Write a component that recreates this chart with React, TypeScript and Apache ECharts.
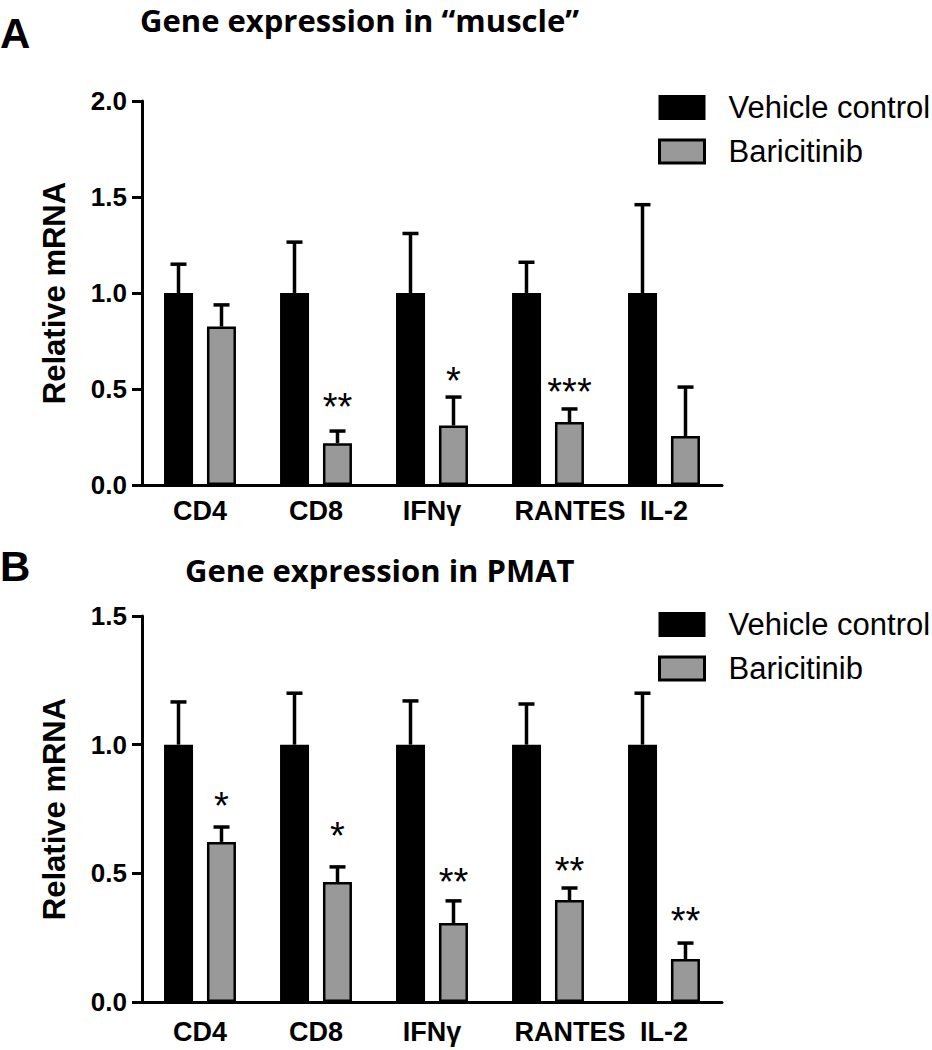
import React, { useEffect, useRef } from "react";
import * as echarts from "echarts";

const categories = ["CD4", "CD8", "IFNγ", "RANTES", "IL-2"];
const seriesNames = ["Vehicle control", "Baricitinib"];

// Panel A: muscle
const muscleVehicle = [1, 1, 1, 1, 1];
const muscleVehicleErrTop = [1.15, 1.265, 1.31, 1.16, 1.46];
const muscleBari = [0.825, 0.218, 0.31, 0.328, 0.255];
const muscleBariErrTop = [0.938, 0.281, 0.458, 0.396, 0.51];
const muscleStars = ["", "**", "*", "***", ""];
const muscleStarY = [0, 0.453, 0.589, 0.531, 0];

// Panel B: PMAT
const pmatVehicle = [1, 1, 1, 1, 1];
const pmatVehicleErrTop = [1.166, 1.2, 1.17, 1.158, 1.2];
const pmatBari = [0.622, 0.466, 0.307, 0.396, 0.167];
const pmatBariErrTop = [0.68, 0.525, 0.393, 0.443, 0.229];
const pmatStars = ["*", "*", "**", "**", "**"];
const pmatStarY = [0.797, 0.68, 0.501, 0.544, 0.35];

const muscleYTicks = { min: 0, max: 2, interval: 0.5 };
const pmatYTicks = { min: 0, max: 1.5, interval: 0.5 };

const GRAY = "#999999";
const BAR_W = 29;
const OFF = 21.5;
const SANS = "'Liberation Sans', Arial, sans-serif";

function errRender(off: number) {
  return (params: any, api: any) => {
    const c = api.value(0);
    const top = api.coord([c, api.value(2)]);
    const base = api.coord([c, api.value(1)]);
    const x = top[0] + off;
    return {
      type: "group",
      children: [
        { type: "line", shape: { x1: x, y1: base[1], x2: x, y2: top[1] }, style: { stroke: "#000", lineWidth: 3.5 } },
        { type: "line", shape: { x1: x - 8, y1: top[1], x2: x + 8, y2: top[1] }, style: { stroke: "#000", lineWidth: 3.5 } },
      ],
    };
  };
}

function starRender(stars: string[]) {
  return (params: any, api: any) => {
    const c = api.value(0);
    const p = api.coord([c, api.value(1)]);
    const s = stars[params.dataIndex];
    if (!s) return { type: "group", children: [] };
    return {
      type: "text",
      x: p[0] + OFF,
      y: p[1] + 9,
      style: {
        text: s,
        fontFamily: SANS,
        fontSize: 38,
        fill: "#000",
        textAlign: "center",
        textVerticalAlign: "middle",
      },
    };
  };
}

function panelSeries(idx: number, veh: number[], vehErr: number[], bari: number[], bariErr: number[], stars: string[], starY: number[]) {
  return [
    {
      name: seriesNames[0],
      type: "bar",
      xAxisIndex: idx,
      yAxisIndex: idx,
      data: veh,
      barWidth: BAR_W,
      barGap: "48%",
      itemStyle: { color: "#000", borderColor: "#000", borderWidth: 2 },
      z: 2,
    },
    {
      name: seriesNames[1],
      type: "bar",
      xAxisIndex: idx,
      yAxisIndex: idx,
      data: bari,
      barWidth: BAR_W,
      barGap: "48%",
      itemStyle: { color: GRAY, borderColor: "#000", borderWidth: 2.5 },
      z: 2,
    },
    {
      type: "custom",
      xAxisIndex: idx,
      yAxisIndex: idx,
      renderItem: errRender(-OFF),
      data: categories.map((_, i) => [i, veh[i], vehErr[i]]),
      encode: { x: 0, y: 2 },
      z: 3,
      silent: true,
    },
    {
      type: "custom",
      xAxisIndex: idx,
      yAxisIndex: idx,
      renderItem: errRender(OFF),
      data: categories.map((_, i) => [i, bari[i], bariErr[i]]),
      encode: { x: 0, y: 2 },
      z: 3,
      silent: true,
    },
    {
      type: "custom",
      xAxisIndex: idx,
      yAxisIndex: idx,
      renderItem: starRender(stars),
      data: categories.map((_, i) => [i, starY[i]]),
      encode: { x: 0, y: 1 },
      z: 4,
      silent: true,
    },
  ];
}

function xAxis(idx: number, margin: number) {
  return {
    type: "category",
    gridIndex: idx,
    data: categories,
    axisLine: { lineStyle: { color: "#000", width: 3 } },
    axisTick: { alignWithLabel: true, length: 10, lineStyle: { color: "#000", width: 3 } },
    axisLabel: {
      interval: 0,
      color: "#000",
      fontFamily: SANS,
      fontWeight: "bold",
      fontSize: 27,
      margin,
      formatter: (v: string) => (v === "RANTES" ? "{r|RANTES}" : v),
      rich: {
        r: { fontFamily: SANS, fontWeight: "bold", fontSize: 27, color: "#000", padding: [0, 0, 0, 44] },
      },
    },
  };
}

function yAxis(idx: number, t: { min: number; max: number; interval: number }) {
  return {
    type: "value",
    gridIndex: idx,
    min: t.min,
    max: t.max,
    interval: t.interval,
    name: "Relative mRNA",
    nameLocation: "middle",
    nameGap: 72,
    nameTextStyle: { color: "#000", fontFamily: SANS, fontWeight: "bold", fontSize: 31 },
    splitLine: { show: false },
    axisLine: { show: true, lineStyle: { color: "#000", width: 3 } },
    axisTick: { show: true, length: 10, lineStyle: { color: "#000", width: 3 } },
    axisLabel: {
      color: "#000",
      fontFamily: SANS,
      fontWeight: "bold",
      fontSize: 26,
      margin: 15,
      formatter: (v: number) => v.toFixed(1),
    },
  };
}

function legend(top: number) {
  return {
    orient: "vertical",
    left: 658,
    top,
    padding: 0,
    itemWidth: 45,
    itemHeight: 23,
    itemGap: 13,
    icon: "rect",
    textStyle: { color: "#000", fontFamily: SANS, fontSize: 31, padding: [0, 0, 0, 19] },
    data: [
      { name: seriesNames[0], itemStyle: { color: "#000", borderColor: "#000", borderWidth: 2 } },
      { name: seriesNames[1], itemStyle: { color: GRAY, borderColor: "#000", borderWidth: 3 } },
    ],
  };
}

export default function App() {
  const ref = useRef<HTMLDivElement>(null);
  useEffect(() => {
    if (!ref.current) return;
    const chart = echarts.init(ref.current, null, { renderer: "svg" });
    chart.setOption({
      animation: false,
      backgroundColor: "#fff",
      title: [
        {
          text: "Gene expression in “muscle”",
          left: 140,
          top: 3,
          padding: 0,
          textStyle: { fontFamily: "'Open Sans', sans-serif", fontWeight: "bold", fontSize: 31, lineHeight: 34, color: "#000" },
        },
        {
          text: "Gene expression in PMAT",
          left: 185,
          top: 553,
          padding: 0,
          textStyle: { fontFamily: "'Open Sans', sans-serif", fontWeight: "bold", fontSize: 31, lineHeight: 34, color: "#000" },
        },
        {
          text: "A",
          left: 0,
          top: 12,
          padding: 0,
          textStyle: { fontFamily: SANS, fontWeight: "bold", fontSize: 42, color: "#000" },
        },
        {
          text: "B",
          left: 0,
          top: 545,
          padding: 0,
          textStyle: { fontFamily: SANS, fontWeight: "bold", fontSize: 42, color: "#000" },
        },
      ],
      legend: [legend(92), legend(609)],
      grid: [
        { left: 142, top: 101, width: 580, height: 384 },
        { left: 142, top: 616, width: 580, height: 386 },
      ],
      xAxis: [xAxis(0, 12), xAxis(1, 16)],
      yAxis: [yAxis(0, muscleYTicks), yAxis(1, pmatYTicks)],
      series: [
        ...panelSeries(0, muscleVehicle, muscleVehicleErrTop, muscleBari, muscleBariErrTop, muscleStars, muscleStarY),
        ...panelSeries(1, pmatVehicle, pmatVehicleErrTop, pmatBari, pmatBariErrTop, pmatStars, pmatStarY),
      ],
    });
    return () => chart.dispose();
  }, []);
  return <div ref={ref} style={{ position: "absolute", left: 0, top: 0, width: 932, height: 1050 }} />;
}
